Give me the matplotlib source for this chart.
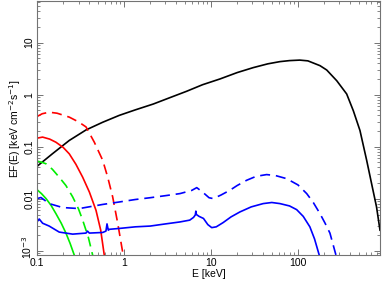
import matplotlib
matplotlib.use("Agg")
import matplotlib.pyplot as plt
from matplotlib.ticker import LogLocator, FixedLocator, FixedFormatter, NullFormatter

plt.rcParams['font.family'] = ['Liberation Sans', 'DejaVu Sans']

# total model (black)
e_tot = [0.1, 0.15, 0.235, 0.366, 0.569, 0.883, 1.35, 2.17, 3.4, 5.25, 8, 12.7, 20, 30.6, 45, 62,
         80, 105, 130, 179, 214, 279, 363, 433, 516, 616, 700, 800, 877]
f_tot = [0.042, 0.073, 0.132, 0.21, 0.295, 0.40, 0.51, 0.66, 0.88, 1.16, 1.55, 2.0, 2.65, 3.3, 3.9,
         4.3, 4.5, 4.6, 4.45, 3.6, 2.97, 1.85, 1.03, 0.49, 0.205, 0.055, 0.02, 0.007, 0.0025]

# red components
e_red_d = [0.1, 0.115, 0.138, 0.17, 0.235, 0.30, 0.366, 0.456, 0.569, 0.65, 0.741, 0.847, 0.98]
f_red_d = [0.38, 0.43, 0.46, 0.44, 0.37, 0.30, 0.24, 0.122, 0.055, 0.026, 0.0109, 0.0034, 0.00082]
e_red = [0.1, 0.116, 0.14, 0.165, 0.2, 0.235, 0.28, 0.335, 0.4, 0.477, 0.54, 0.594]
f_red = [0.146, 0.153, 0.14, 0.122, 0.097, 0.073, 0.046, 0.026, 0.0135, 0.006, 0.0025, 0.00082]

# green components
e_grn_d = [0.1, 0.115, 0.127, 0.15, 0.18, 0.215, 0.257, 0.3, 0.335, 0.39, 0.437]
f_grn_d = [0.053, 0.05, 0.047, 0.037, 0.026, 0.018, 0.0109, 0.0064, 0.0039, 0.0018, 0.00082]
e_grn = [0.1, 0.113, 0.127, 0.145, 0.165, 0.19, 0.215, 0.24, 0.269]
f_grn = [0.015, 0.0125, 0.0101, 0.0075, 0.0052, 0.0034, 0.0022, 0.0014, 0.00082]

# blue components
e_blu_d = [0.1, 0.111, 0.138, 0.197, 0.306, 0.569, 0.883, 1.35, 2, 3, 4.4, 6.0, 6.86, 8.0, 9.5,
           10.6, 13, 16.5, 20, 25.7, 33, 43.6, 55, 74, 100, 126, 150, 179, 205, 233, 274]
f_blu_d = [0.0101, 0.0106, 0.0081, 0.0068, 0.0065, 0.0078, 0.0087, 0.0097, 0.0105, 0.0115, 0.0126,
           0.0145, 0.0164, 0.0135, 0.0105, 0.0101, 0.0118, 0.0146, 0.018, 0.0227, 0.027, 0.0292,
           0.028, 0.0244, 0.0185, 0.0126, 0.0085, 0.0052, 0.0034, 0.0022, 0.00082]
e_blu = [0.1, 0.106, 0.116, 0.138, 0.18, 0.257, 0.366, 0.38, 0.4, 0.569, 0.62, 0.638, 0.66, 0.68,
         0.883, 1.35, 2, 3, 4.4, 5.7, 6.3, 6.6, 6.7, 6.8, 7.3, 8.2, 9.2, 10.2, 11.5, 13.8, 17,
         21.5, 29, 39.8, 50, 62, 80, 96.6, 115, 137, 155, 176]
f_blu = [0.0036, 0.0041, 0.0034, 0.003, 0.0023, 0.0021, 0.0022, 0.0024, 0.0022, 0.00226, 0.0024,
         0.0033, 0.0025, 0.0026, 0.0027, 0.0029, 0.0030, 0.0033, 0.0036, 0.0039, 0.0044, 0.0049,
         0.0058, 0.0050, 0.0046, 0.0042, 0.0032, 0.0028, 0.0029, 0.0035, 0.0045, 0.0056, 0.007,
         0.0081, 0.0085, 0.0081, 0.0073, 0.0062, 0.0046, 0.0029, 0.0017, 0.00082]

x_ticks = [0.1, 1, 10, 100]
x_labels = ['0.1', '1', '10', '100']
y_ticks = [1e-3, 0.01, 0.1, 1, 10]
y_labels = ['', '0.01', '0.1', '1', '10']

fig = plt.figure(figsize=(3.82, 2.85), dpi=100)
ax = fig.add_axes([37 / 382, 30 / 285, 343 / 382, 254 / 285])

lw = 1.2
dash = (6, 3.5)
ax.plot(e_tot, f_tot, color='black', lw=lw)
ax.plot(e_red_d, f_red_d, color='#ff0000', lw=lw, dashes=dash)
ax.plot(e_red, f_red, color='#ff0000', lw=lw)
ax.plot(e_grn_d, f_grn_d, color='#00ee00', lw=lw, dashes=dash)
ax.plot(e_grn, f_grn, color='#00ee00', lw=lw)
ax.plot(e_blu_d, f_blu_d, color='#0000ff', lw=lw, dashes=dash)
ax.plot(e_blu, f_blu, color='#0000ff', lw=lw)

ax.set_xscale('log')
ax.set_yscale('log')
ax.set_xlim(0.1, 877)
ax.set_ylim(0.000835, 62.7)

ax.xaxis.set_major_locator(FixedLocator(x_ticks))
ax.xaxis.set_major_formatter(FixedFormatter(x_labels))
ax.yaxis.set_major_locator(FixedLocator(y_ticks))
ax.yaxis.set_major_formatter(FixedFormatter(y_labels))
ax.xaxis.set_minor_locator(LogLocator(base=10, subs=range(2, 10), numticks=20))
ax.yaxis.set_minor_locator(LogLocator(base=10, subs=range(2, 10), numticks=20))
ax.xaxis.set_minor_formatter(NullFormatter())
ax.yaxis.set_minor_formatter(NullFormatter())

frame = '0.45'
for s in ax.spines.values():
    s.set_color(frame)
    s.set_linewidth(0.8)
ax.tick_params(which='both', direction='in', top=True, right=True, color=frame,
               labelsize=7.5, pad=2)
ax.tick_params(which='major', length=4, width=0.7)
ax.tick_params(which='minor', length=2.2, width=0.6)
for lab in ax.get_yticklabels():
    lab.set_rotation(90)
    lab.set_va('center')

# lowest y label placed by hand so it clears the 0.1 on the x axis
ax.annotate(r'10$^{-3}$', xy=(0, 1e-3), xycoords=('axes fraction', 'data'),
            xytext=(-2, 3), textcoords='offset points', rotation=90,
            ha='right', va='center', fontsize=7.5)

ax.set_xlabel('E [keV]', fontsize=7.5, labelpad=1)
ax.set_ylabel(r'EF(E) [keV cm$^{-2}$s$^{-1}$]', fontsize=7.5, labelpad=1)

fig.savefig('out.png', dpi=100)
